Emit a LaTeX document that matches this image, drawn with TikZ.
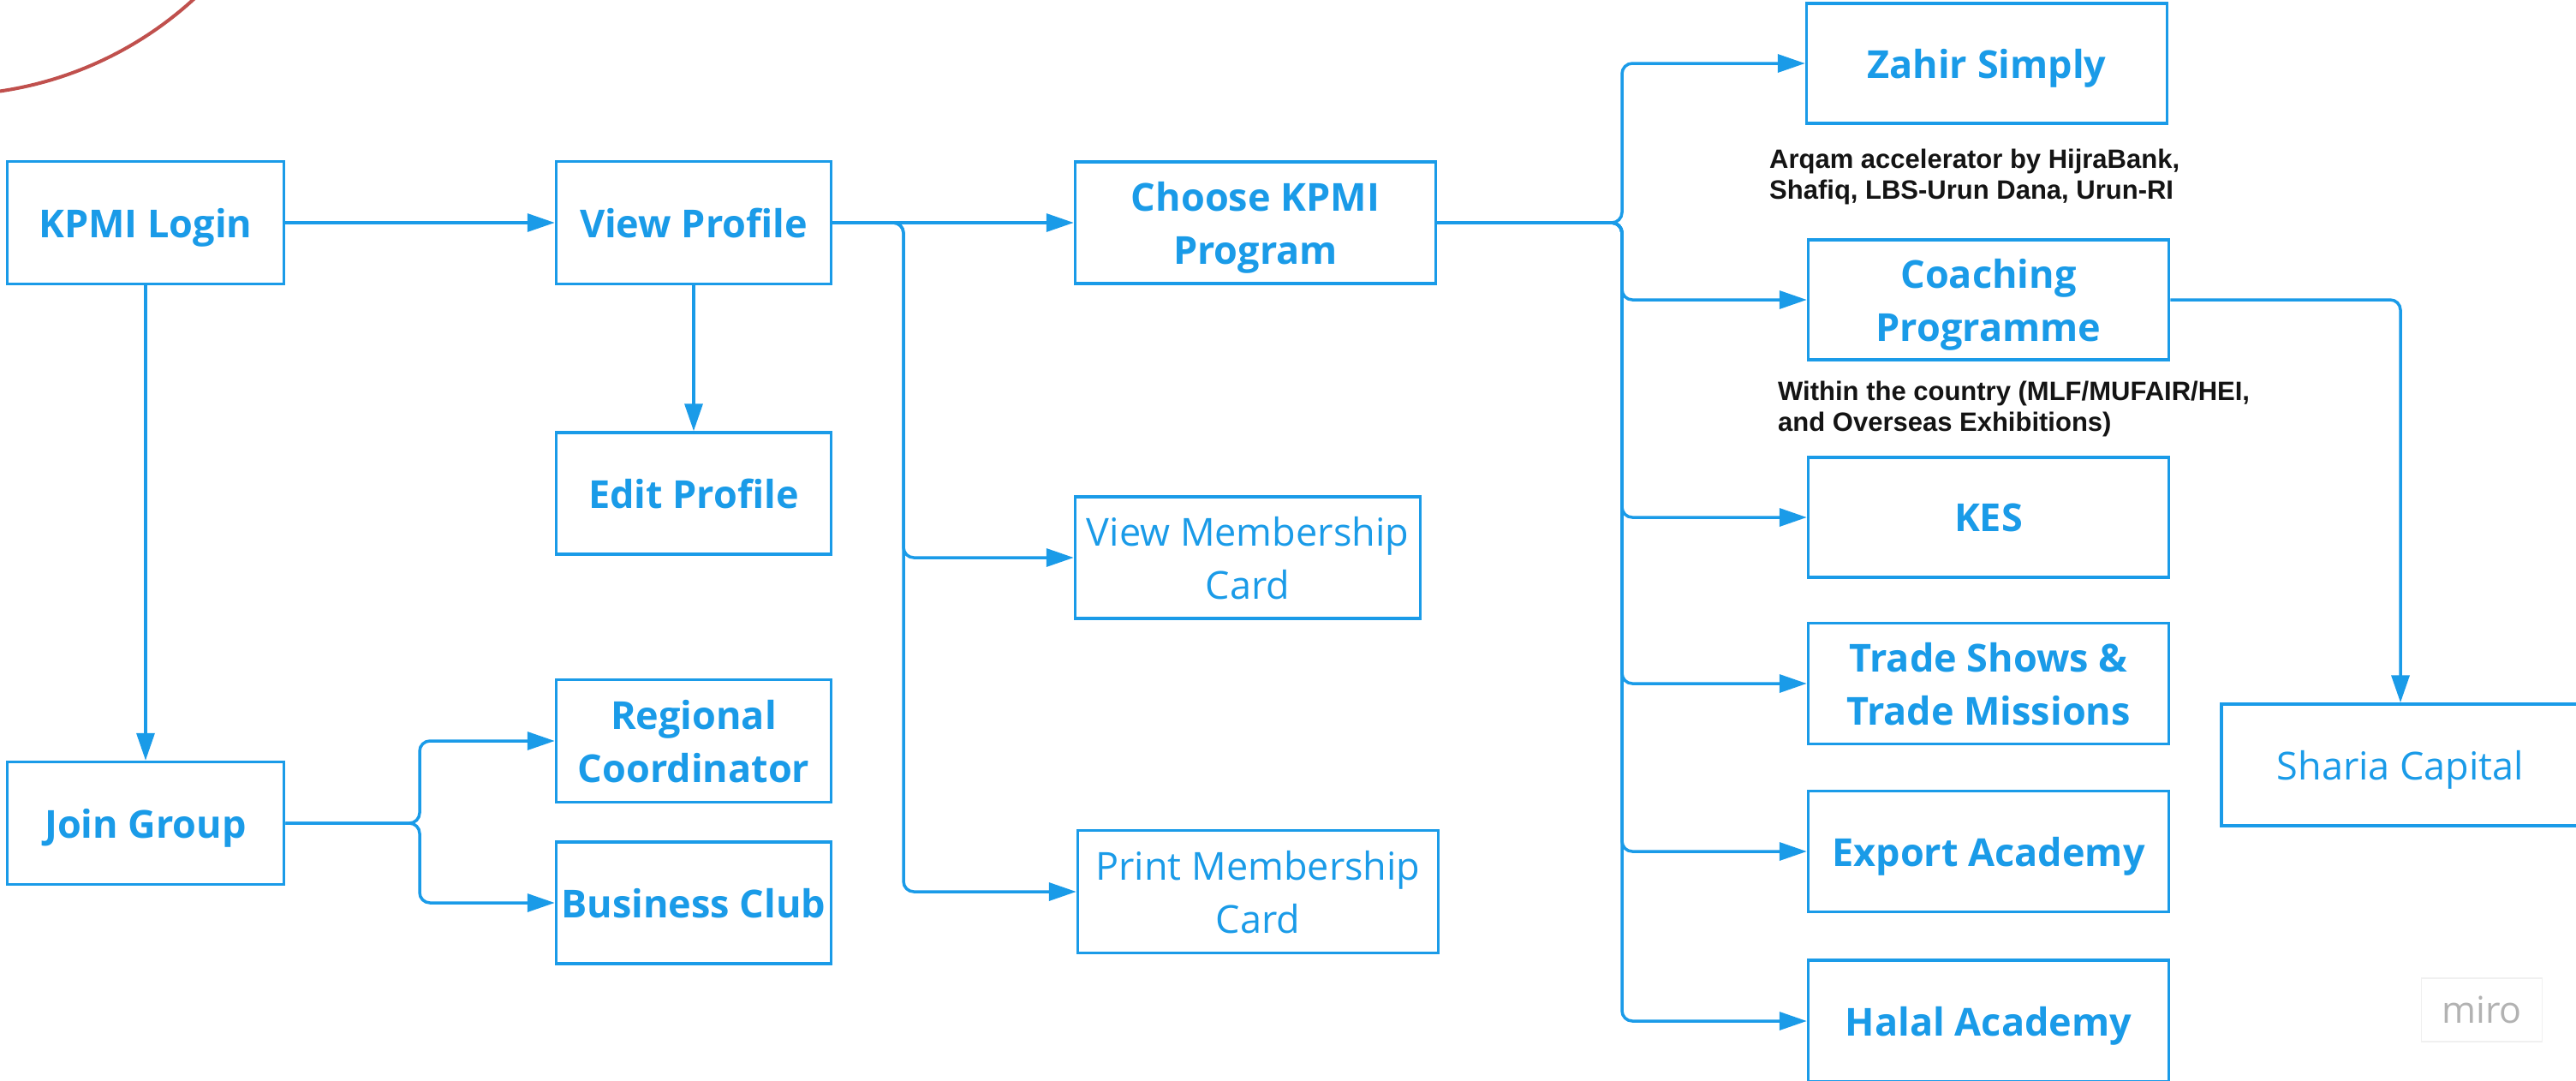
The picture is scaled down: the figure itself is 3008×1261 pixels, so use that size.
\documentclass[tikz,border=0pt]{standalone}
\usepackage{fontspec}
\setmainfont{Open Sans}
\newfontfamily\arialfont{Liberation Sans}
\usetikzlibrary{arrows.meta}
\definecolor{mblue}{RGB}{26,155,232}
\definecolor{mred}{RGB}{192,80,77}
\begin{document}
\begin{tikzpicture}[x=1pt,y=-1pt,
  box/.style={draw=mblue, line width=3.5pt, text=mblue, align=center, inner sep=0pt, text depth=0pt,
    font=\fontsize{45}{62}\selectfont\bfseries},
  rbox/.style={box, font=\fontsize{45}{62}\selectfont},
  conn/.style={draw=mblue, line width=3.5pt, -{Triangle[length=32pt,width=21pt]}, rounded corners=12pt},
  note/.style={font=\arialfont\bfseries\fontsize{31}{36}\selectfont, align=left, inner sep=0pt, text=black!92},
  wm/.style={draw=black!6, line width=1.5pt, text=black!30, font=\fontsize{43}{50}\selectfont, minimum width=141pt, minimum height=74pt, inner sep=0pt}
]
\fill[white] (0,0) rectangle (3008,1261);
\useasboundingbox (0,0) rectangle (3008,1261);

% red arc
\draw[mred, line width=4pt] (-62,-316) ++(88:427) arc[start angle=88, end angle=40, radius=427];

% left column
\node[box, minimum width=323pt, minimum height=143pt] (login) at (170,260) {KPMI Login};
\node[box, minimum width=323pt, minimum height=143pt] (join) at (170,961) {Join Group};
% second column
\node[box, minimum width=321pt, minimum height=143pt] (view) at (810,260) {View Profile};
\node[box, minimum width=321pt, minimum height=142pt] (edit) at (810,576) {Edit Profile};
\node[box, minimum width=321pt, minimum height=143pt] (regional) at (810,865) {Regional\\Coordinator};
\node[box, minimum width=321pt, minimum height=142pt] (business) at (810,1054) {Business Club};
% third column
\node[box, minimum width=421pt, minimum height=142pt] (choose) at (1466,260) {Choose KPMI\\Program};
\node[rbox, minimum width=403pt, minimum height=142pt] (vmc) at (1457,651) {View Membership\\Card};
\node[rbox, minimum width=421pt, minimum height=143pt] (pmc) at (1469,1041) {Print Membership\\Card};
% programmes
\node[box, minimum width=421pt, minimum height=140pt] (zahir) at (2320,74) {Zahir Simply};
\node[box, minimum width=421pt, minimum height=140pt] (coach) at (2322,350) {Coaching\\Programme};
\node[box, minimum width=421pt, minimum height=140pt] (kes) at (2322,604) {KES};
\node[box, minimum width=421pt, minimum height=141pt] (trade) at (2322,798) {Trade Shows \&\\Trade Missions};
\node[box, minimum width=421pt, minimum height=141pt] (export) at (2322,994) {Export Academy};
\node[box, minimum width=421pt, minimum height=142pt] (halal) at (2322,1192) {Halal Academy};
\node[rbox, minimum width=418pt, minimum height=142pt] (sharia) at (2803,893) {Sharia Capital};

% notes
\node[note, anchor=north west] (note1) at (2066,174) {Arqam accelerator by HijraBank,\\Shafiq, LBS-Urun Dana, Urun-RI};
\node[note, anchor=north west] (note2) at (2076,445) {Within the country (MLF/MUFAIR/HEI,\\and Overseas Exhibitions)};

% watermark
\node[wm] (miro) at (2898,1179) {miro};

% junction points
\coordinate (jv) at (1055,260);
\coordinate (jg) at (490,961);
\coordinate (jc) at (1894,260);

% connectors
\draw[conn] (login) -- (view);
\draw[conn] (login) -- (join);
\draw[conn] (view) -- (edit);
\draw[conn] (view.east) -- (choose.west);
\draw[conn] (view.east) -- (jv) |- (vmc.west);
\draw[conn] (view.east) -- (jv) |- (pmc.west);
\draw[conn] (join.east) -- (jg) |- (regional.west);
\draw[conn] (join.east) -- (jg) |- (business.west);
\draw[conn] (choose.east) -- (jc) |- (zahir.west);
\draw[conn] (choose.east) -- (jc) |- (coach.west);
\draw[conn] (choose.east) -- (jc) |- (kes.west);
\draw[conn] (choose.east) -- (jc) |- (trade.west);
\draw[conn] (choose.east) -- (jc) |- (export.west);
\draw[conn] (choose.east) -- (jc) |- (halal.west);
\draw[conn] (coach.east) -| (sharia.north);
\end{tikzpicture}
\end{document}
